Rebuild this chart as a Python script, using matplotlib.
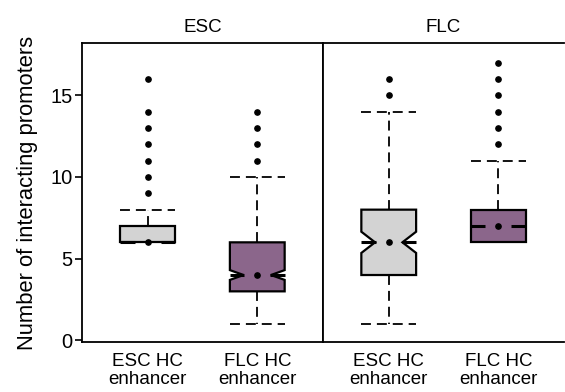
import matplotlib
matplotlib.use("Agg")
import matplotlib.pyplot as plt

plt.rcParams['font.family'] = ['Liberation Sans', 'DejaVu Sans']

# panels and groups
panels = ['ESC', 'FLC']
groups = ['ESC HC\nenhancer', 'FLC HC\nenhancer']
box_colors = ['#d3d3d3', '#8b668b']

# summary values, per panel, per group
whislo = [[6, 1], [1, 6]]
q1 = [[6, 3], [4, 6]]
med = [[6, 4], [6, 7]]
q3 = [[7, 6], [8, 8]]
whishi = [[8, 10], [14, 11]]
notch_half = [[0.0, 0.3], [0.65, 0.0]]
fliers = [
    [[9, 10, 11, 12, 13, 14, 16], [11, 12, 13, 14]],
    [[15, 16], [12, 13, 14, 15, 16, 17]],
]

fig = plt.figure(figsize=(5.65, 3.92), dpi=100)
W, H = 565, 392
ax_w = 241
axes = [fig.add_axes([82 / W, 50 / H, ax_w / W, 299 / H]),
        fig.add_axes([323 / W, 50 / H, ax_w / W, 299 / H])]

width = 0.5
dash = (0, (5.5, 3.3))
for p, ax in enumerate(axes):
    for g in range(2):
        pos = g + 1
        stats = dict(med=med[p][g], q1=q1[p][g], q3=q3[p][g],
                     whislo=whislo[p][g], whishi=whishi[p][g],
                     fliers=fliers[p][g],
                     cilo=med[p][g] - notch_half[p][g],
                     cihi=med[p][g] + notch_half[p][g])
        notched = notch_half[p][g] > 0
        ax.bxp([stats], positions=[pos], widths=width, patch_artist=True,
               shownotches=notched,
               boxprops=dict(facecolor=box_colors[g], edgecolor='black', linewidth=1.6),
               whiskerprops=dict(color='black', linewidth=1.3, linestyle=dash),
               capprops=dict(color='black', linewidth=1.3, linestyle=dash),
               capwidths=width,
               medianprops=dict(linewidth=0),
               flierprops=dict(marker='o', markerfacecolor='black',
                               markeredgecolor='black', markersize=3.8))
        # median: short ticks from the box sides plus a point
        seg = 0.13
        m = med[p][g]
        ax.hlines([m, m], [pos - width / 2, pos + width / 2 - seg],
                  [pos - width / 2 + seg, pos + width / 2],
                  color='black', linewidth=2.2)
        ax.plot([pos], [m], 'o', color='black', markersize=3.8)

    ax.set_xlim(0.4, 2.6)
    ax.set_ylim(-0.1, 18.2)
    ax.set_xticks([1, 2])
    ax.set_xticklabels(groups, fontsize=13.5, linespacing=1.1)
    ax.tick_params(axis='x', length=0, pad=8)
    ax.set_title(panels[p], fontsize=13.5, pad=8)
    for s in ax.spines.values():
        s.set_linewidth(1.3)

axes[0].set_yticks([0, 5, 10, 15])
axes[0].tick_params(axis='y', labelsize=14.5, length=5, width=1.2, pad=2)
axes[0].set_ylabel('Number of interacting promoters', fontsize=15.8, labelpad=9)
axes[1].set_yticks([])
axes[1].spines['right'].set_visible(False)

fig.savefig('out.png', dpi=100)
